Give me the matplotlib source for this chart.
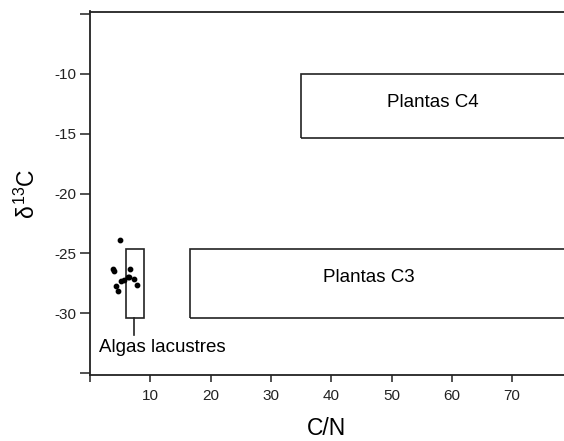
import matplotlib
matplotlib.use("Agg")
import matplotlib.pyplot as plt
from matplotlib.patches import Rectangle

plt.rcParams['font.family'] = ['Liberation Sans', 'DejaVu Sans']
plt.rcParams['mathtext.fontset'] = 'custom'
plt.rcParams['mathtext.rm'] = 'Liberation Sans'
plt.rcParams['mathtext.it'] = 'Liberation Sans'

# Data
algae_cn = [4.98, 3.87, 4.03, 4.26, 4.59, 5.09, 5.69, 6.25, 6.63, 6.52, 7.35, 7.74]
algae_d13c = [-23.9, -26.26, -26.5, -27.7, -28.1, -27.3, -27.2, -26.96, -26.26, -26.96, -27.15, -27.66]
algae_box = {"cn": (5.9, 9.0), "d13c": (-30.4, -24.6), "whisker_cn": 7.3, "whisker_low": -31.8}
c3_box = {"cn": (16.6, 90.0), "d13c": (-30.4, -24.6)}
c4_box = {"cn": (35.0, 90.0), "d13c": (-15.4, -10.0)}
labels = ["Plantas C4", "Plantas C3", "Algas lacustres"]
label_pos = [(56.9, -12.4), (46.3, -27.0), (1.5, -32.85)]
xticks = [0, 10, 20, 30, 40, 50, 60, 70]
xticklabels = ["", "10", "20", "30", "40", "50", "60", "70"]
yticks = [-35, -30, -25, -20, -15, -10, -5]
yticklabels = ["", "-30", "-25", "-20", "-15", "-10", ""]

fig = plt.figure(figsize=(5.64, 4.41), dpi=100)
ax = fig.add_axes([90/564, 1 - 375/441, 1 - 90/564, (375 - 11.5)/441])
ax.set_xlim(0, 78.6)
ax.set_ylim(-35.15, -4.8)

ax.spines['right'].set_visible(False)
for s in ['left', 'bottom', 'top']:
    ax.spines[s].set_linewidth(1.3)
    ax.spines[s].set_color('#222222')

lw = 1.2
for box in (c3_box, c4_box):
    x0, x1 = box["cn"]
    y0, y1 = box["d13c"]
    ax.add_patch(Rectangle((x0, y0), x1 - x0, y1 - y0, fill=False, edgecolor='#222222', linewidth=lw))

x0, x1 = algae_box["cn"]
y0, y1 = algae_box["d13c"]
ax.add_patch(Rectangle((x0, y0), x1 - x0, y1 - y0, fill=False, edgecolor='#222222', linewidth=lw))
ax.plot([algae_box["whisker_cn"]] * 2, [y0, algae_box["whisker_low"]], color='#222222', lw=lw)

ax.scatter(algae_cn, algae_d13c, s=10, color='black', zorder=3)

ax.text(*label_pos[0], labels[0], ha='center', va='center', fontsize=13.5)
ax.text(*label_pos[1], labels[1], ha='center', va='center', fontsize=13.5)
ax.text(*label_pos[2], labels[2], ha='left', va='center', fontsize=13.5)

ax.set_xticks(xticks)
ax.set_xticklabels(xticklabels)
ax.set_yticks(yticks)
ax.set_yticklabels(yticklabels)
ax.tick_params(axis='x', direction='out', length=5, width=1.1, labelsize=11, pad=5, colors='#222222')
ax.tick_params(axis='y', direction='out', length=7, width=1.1, labelsize=11, pad=3, colors='#222222')

ax.set_xlabel("C/N", fontsize=16.5, labelpad=10)
ax.set_ylabel(r"$\delta^{13}$C", fontsize=16.5, labelpad=10)

fig.savefig("out.png", dpi=100)
